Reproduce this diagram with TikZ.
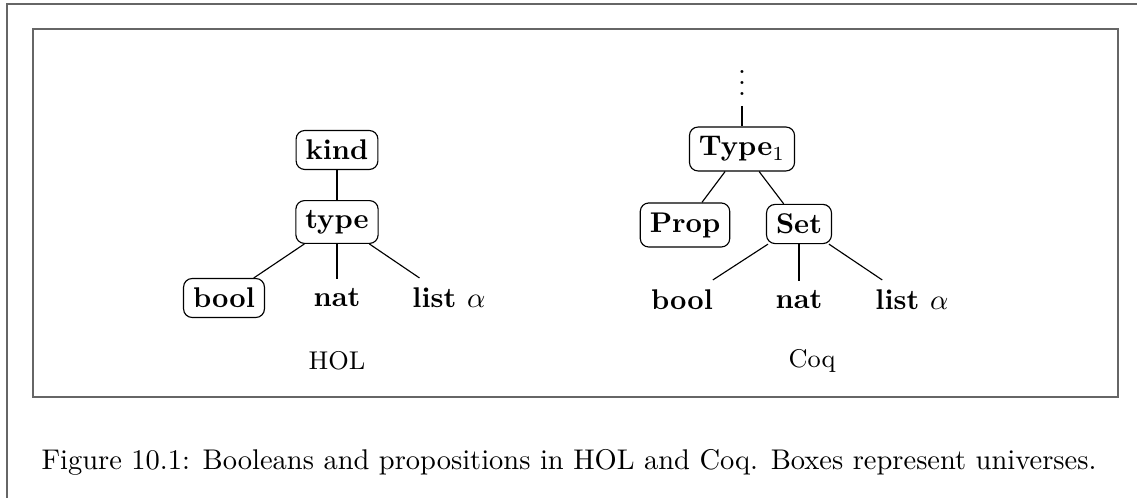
\documentclass[tikz,border=0pt]{standalone}
\usepackage{tikz}
\tikzstyle{univ} = [draw=black, rounded corners=3pt, font={\bfseries}]
\tikzstyle{term} = [font={\bfseries}]
\tikzstyle{sys} = [font={\small}]
\tikzstyle{frame} = [draw=black!60, line width=0.7pt]

\begin{document}
\begin{tikzpicture}[x=0.351pt,y=-0.351pt]
    \useasboundingbox (0,0) rectangle (1137,498);
    \draw[frame] (7,498) -- (7,4) -- (1137,4);
    \draw[frame] (33,29) rectangle (1118,397);
    % HOL
    \node[univ](kind) at (337,150){kind};
    \node[univ](type) at (337,222){type};
    \node[univ](hbool) at (224,298){bool};
    \node[term](hnat) at (337,298){nat};
    \node[term](hlist) at (449,298){list $\alpha$};
    \node[sys](hol) at (337,361){HOL};
    \draw(kind)--(type);
    \draw(type)--(hbool);
    \draw(type)--(hnat);
    \draw(type)--(hlist);
    % Coq
    \node[anchor=south](dots) at (742,106){$\vdots$};
    \node[univ](type1) at (742,149){Type$_1$};
    \node[univ](prop) at (685,225){Prop};
    \node[univ](set) at (799,224){Set};
    \node[term](cbool) at (682,300){bool};
    \node[term](cnat) at (799,300){nat};
    \node[term](clist) at (912,300){list $\alpha$};
    \node[sys](coq) at (812,361){Coq};
    \draw(dots)--(type1);
    \draw(type1)--(prop);
    \draw(type1)--(set);
    \draw(set)--(cbool);
    \draw(set)--(cnat);
    \draw(set)--(clist);
    % caption
    \node[anchor=base west, inner sep=0pt](cap) at (41,470){Figure 10.1: Booleans and propositions in HOL and Coq. Boxes represent universes.};
\end{tikzpicture}
\end{document}
